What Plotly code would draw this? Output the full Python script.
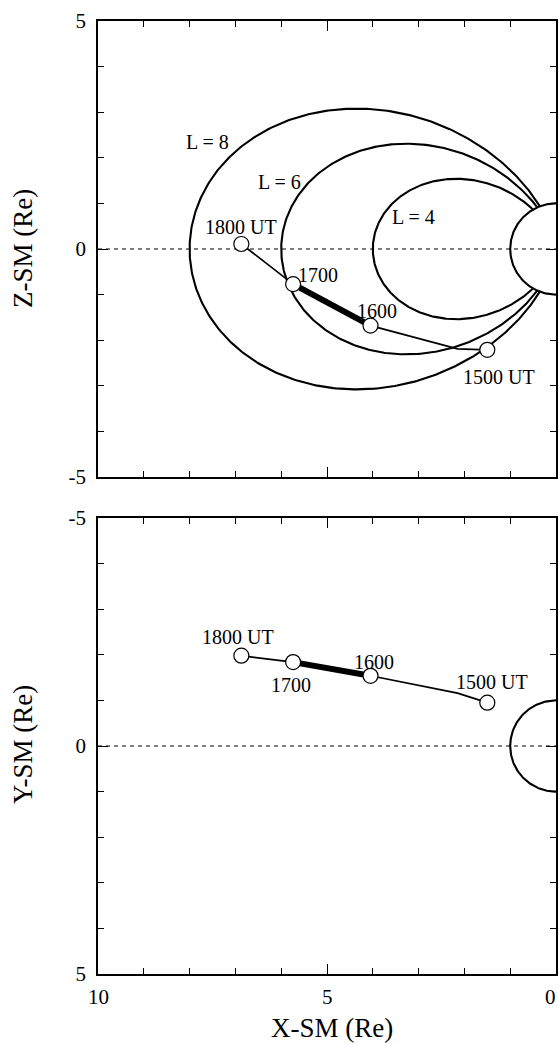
import numpy as np
import plotly.graph_objects as go

# ---------------- data ----------------
L_VALUES = [4, 6, 8]
L_LABELS = ["L = 4", "L = 6", "L = 8"]
EARTH_RADIUS = 1.0

TIME_LABELS = ["1800 UT", "1700", "1600", "", "1500 UT"]
X_SM = [6.87, 5.74, 4.05, 2.15, 1.50]
Z_SM = [0.11, -0.77, -1.68, -2.19, -2.21]
Y_SM = [-1.98, -1.84, -1.54, -1.16, -0.95]
MARKED = [0, 1, 2, 4]          # points drawn as open circles
THICK = [1, 2]                 # 1700 -> 1600 highlighted segment

X_TICKS = [10, 5, 0]
X_TICKTEXT = ["10", "5", "0"]
Z_TICKS = [-5, 0, 5]
Z_TICKTEXT = ["-5", "0", "5"]

# ---------------- styling ----------------
FONT = "Liberation Serif"
W, H = 559, 1045
ML, MR, MT, MB = 98, 3, 21, 71

fig = go.Figure()


def field_line(L):
    lam_max = np.arccos(np.sqrt(EARTH_RADIUS / L))
    lam = np.linspace(-lam_max, lam_max, 400)
    return L * np.cos(lam) ** 3, L * np.cos(lam) ** 2 * np.sin(lam)


th = np.linspace(0, 2 * np.pi, 400)
earth_x = EARTH_RADIUS * np.cos(th)
earth_y = EARTH_RADIUS * np.sin(th)

line_k = dict(color="black", width=2.1)

for xa, ya, vert in (("x", "y", Z_SM), ("x2", "y2", Y_SM)):
    # dashed zero line
    fig.add_trace(go.Scatter(x=[10, 0], y=[0, 0], mode="lines", xaxis=xa, yaxis=ya,
                             line=dict(color="black", width=1, dash="4px,4px"),
                             hoverinfo="skip", showlegend=False))
    # Earth
    fig.add_trace(go.Scatter(x=earth_x, y=earth_y, mode="lines", xaxis=xa, yaxis=ya,
                             line=line_k, hoverinfo="skip", showlegend=False))
    if xa == "x":
        for L in L_VALUES:
            fx, fz = field_line(L)
            fig.add_trace(go.Scatter(x=fx, y=fz, mode="lines", xaxis=xa, yaxis=ya,
                                     line=line_k, hoverinfo="skip", showlegend=False))
    # trajectory
    fig.add_trace(go.Scatter(x=X_SM, y=vert, mode="lines", xaxis=xa, yaxis=ya,
                             line=dict(color="black", width=1.7),
                             hoverinfo="skip", showlegend=False))
    fig.add_trace(go.Scatter(x=[X_SM[i] for i in THICK], y=[vert[i] for i in THICK],
                             mode="lines", xaxis=xa, yaxis=ya,
                             line=dict(color="black", width=6),
                             hoverinfo="skip", showlegend=False))
    fig.add_trace(go.Scatter(x=[X_SM[i] for i in MARKED], y=[vert[i] for i in MARKED],
                             mode="markers", xaxis=xa, yaxis=ya,
                             marker=dict(size=15, color="white",
                                         line=dict(color="black", width=1.2)),
                             cliponaxis=False, hoverinfo="skip", showlegend=False))

ann = []
# L-shell labels (top panel)
L_POS = {4: (3.12, 0.70), 6: (6.03, 1.47), 8: (7.60, 2.35)}
for L, lab in zip(L_VALUES, L_LABELS):
    px, pz = L_POS[L]
    ann.append(dict(x=px, y=pz, xref="x", yref="y", text=lab, showarrow=False,
                    font=dict(family=FONT, size=20, color="black")))

# time labels: pixel offsets from their points
TOP_SHIFT = {0: (0, 17), 1: (25, 9), 2: (6, 15), 4: (12, -27)}
BOT_SHIFT = {0: (-3, 19), 1: (-2, -23), 2: (3, 14), 4: (5, 21)}
for shifts, ya, vert in ((TOP_SHIFT, "y", Z_SM), (BOT_SHIFT, "y2", Y_SM)):
    xa = "x" if ya == "y" else "x2"
    for i, (dx, dy) in shifts.items():
        ann.append(dict(x=X_SM[i], y=vert[i], xref=xa, yref=ya, text=TIME_LABELS[i],
                        showarrow=False, xshift=dx, yshift=dy,
                        font=dict(family=FONT, size=20, color="black")))

plot_h = H - MT - MB
plot_w = W - ML - MR
tick_font = dict(family=FONT, size=21, color="black")
# x tick labels drawn as annotations so the edge label "0" stays inside the page
for v, t in zip(X_TICKS, X_TICKTEXT):
    edge = v == min(X_TICKS)
    ann.append(dict(x=v, y=(H - MB - 997) / plot_h, xref="x2", yref="paper", text=t,
                    showarrow=False, font=tick_font,
                    xanchor="right" if edge else "center", xshift=2 if edge else 0,
                    yanchor="middle"))

title_font = dict(family=FONT, size=27, color="black")
ann.append(dict(x=(332 - ML) / plot_w, y=(H - MB - 1028) / plot_h, xref="paper", yref="paper",
                text="X-SM (Re)", showarrow=False, font=title_font,
                xanchor="center", yanchor="middle"))
ann.append(dict(x=(23 - ML) / plot_w, y=(H - MB - 249) / plot_h, xref="paper", yref="paper",
                text="Z-SM (Re)", showarrow=False, font=title_font, textangle=-90,
                xanchor="center", yanchor="middle"))
ann.append(dict(x=(23 - ML) / plot_w, y=(H - MB - 745) / plot_h, xref="paper", yref="paper",
                text="Y-SM (Re)", showarrow=False, font=title_font, textangle=-90,
                xanchor="center", yanchor="middle"))

axis_common = dict(showline=True, linecolor="black", linewidth=1.6, mirror="ticks",
                   ticks="inside", ticklen=10, tickwidth=1.2, tickcolor="black",
                   showgrid=False, zeroline=False, automargin=False,
                   minor=dict(ticks="inside", ticklen=6, dtick=1, tickwidth=1.2,
                              tickcolor="black", showgrid=False),
                   tickfont=tick_font)

top_bottom = (H - MB - 477) / plot_h
bot_top = (H - MB - 518) / plot_h

fig.update_layout(
    width=W, height=H, margin=dict(l=ML, r=MR, t=MT, b=MB),
    paper_bgcolor="white", plot_bgcolor="white",
    showlegend=False,
    xaxis=dict(axis_common, range=[10, 0], tickmode="array", tickvals=X_TICKS,
               ticktext=X_TICKTEXT, showticklabels=False, anchor="y"),
    yaxis=dict(axis_common, range=[-5, 5], tickmode="array", tickvals=Z_TICKS,
               ticktext=Z_TICKTEXT, domain=[top_bottom, 1], anchor="x",
               ticklabelstandoff=6),
    xaxis2=dict(axis_common, range=[10, 0], tickmode="array", tickvals=X_TICKS,
                ticktext=X_TICKTEXT, showticklabels=False, anchor="y2"),
    yaxis2=dict(axis_common, range=[5, -5], tickmode="array", tickvals=Z_TICKS,
                ticktext=Z_TICKTEXT, domain=[0, bot_top], anchor="x2",
                ticklabelstandoff=6),
    annotations=ann,
)

fig.write_html("out.html")
